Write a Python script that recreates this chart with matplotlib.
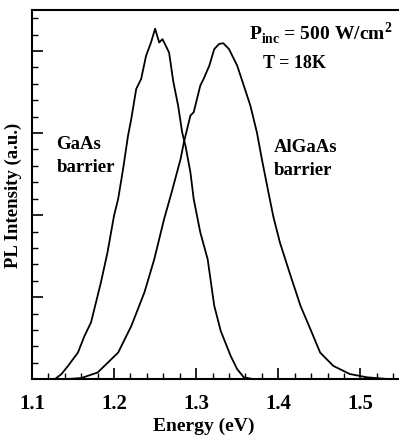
import numpy as np
import matplotlib
matplotlib.use('Agg')
import matplotlib.pyplot as plt
from matplotlib.ticker import MultipleLocator, NullFormatter, FormatStrFormatter

# GaAs barrier sample
e_gaas = [1.110, 1.128, 1.136, 1.144, 1.156, 1.164, 1.172, 1.178, 1.184, 1.192, 1.200,
          1.205, 1.211, 1.217, 1.221, 1.227, 1.233, 1.239, 1.245, 1.250, 1.255, 1.259,
          1.267, 1.272, 1.278, 1.283, 1.287, 1.293, 1.297, 1.301, 1.305, 1.314, 1.318,
          1.322, 1.330, 1.342, 1.350, 1.358, 1.370, 1.380]
i_gaas = [0.000, 0.000, 0.014, 0.036, 0.072, 0.117, 0.154, 0.208, 0.262, 0.343, 0.443,
          0.488, 0.569, 0.659, 0.705, 0.786, 0.813, 0.876, 0.912, 0.949, 0.912, 0.921,
          0.885, 0.808, 0.741, 0.668, 0.632, 0.560, 0.488, 0.443, 0.398, 0.325, 0.262,
          0.199, 0.130, 0.063, 0.027, 0.005, 0.000, 0.000]

# AlGaAs barrier sample
e_algaas = [1.140, 1.160, 1.180, 1.205, 1.221, 1.237, 1.249, 1.261, 1.270, 1.281, 1.285,
            1.293, 1.297, 1.301, 1.305, 1.309, 1.316, 1.322, 1.328, 1.333, 1.340, 1.350,
            1.358, 1.366, 1.374, 1.380, 1.388, 1.394, 1.402, 1.415, 1.427, 1.439, 1.451,
            1.467, 1.487, 1.508, 1.536, 1.550]
i_algaas = [0.000, 0.003, 0.018, 0.072, 0.144, 0.235, 0.325, 0.434, 0.505, 0.596, 0.641,
            0.714, 0.723, 0.759, 0.795, 0.813, 0.849, 0.894, 0.908, 0.910, 0.894, 0.849,
            0.795, 0.741, 0.668, 0.596, 0.506, 0.440, 0.370, 0.280, 0.199, 0.136, 0.072,
            0.036, 0.014, 0.005, 0.000, 0.000]

plt.rcParams['font.family'] = ['Liberation Serif', 'DejaVu Serif']
plt.rcParams['font.weight'] = 'bold'
plt.rcParams['mathtext.fontset'] = 'custom'
plt.rcParams['mathtext.rm'] = 'Liberation Serif:bold'
plt.rcParams['mathtext.bf'] = 'Liberation Serif:bold'

fig = plt.figure(figsize=(3.99, 4.39), dpi=100)
ax = fig.add_axes([0.080, 0.134, 0.92, 0.841])

ax.plot(e_gaas, i_gaas, 'k-', lw=1.3)
ax.plot(e_algaas, i_algaas, 'k-', lw=1.3)

ax.set_xlim(1.1, 1.547)
ax.set_ylim(0, 1.0)
ax.spines['right'].set_visible(False)
for s in ['left', 'top', 'bottom']:
    ax.spines[s].set_linewidth(1.5)

ax.xaxis.set_major_locator(MultipleLocator(0.1))
ax.xaxis.set_minor_locator(MultipleLocator(0.02))
ax.yaxis.set_major_locator(MultipleLocator(0.2222))
ax.yaxis.set_minor_locator(MultipleLocator(0.04444))
ax.yaxis.set_major_formatter(NullFormatter())
ax.xaxis.set_major_formatter(FormatStrFormatter('%.1f'))
ax.tick_params(which='major', direction='in', length=8, width=1.2)
ax.tick_params(which='minor', direction='in', length=4, width=1.0)
ax.tick_params(axis='x', labelsize=15, pad=10)
ax.tick_params(top=False, right=False, which='both')

ax.set_xlabel('Energy (eV)', fontsize=14, fontweight='bold')
ax.xaxis.set_label_coords(0.469, -0.102)
ax.set_ylabel('PL Intensity (a.u.)', fontsize=13.5, fontweight='bold', labelpad=4)

ax.text(1.1297, 0.607, 'GaAs\nbarrier', fontsize=13.5, fontweight='bold',
        va='center', ha='left', linespacing=1.45)
ax.text(1.394, 0.600, 'AlGaAs\nbarrier', fontsize=13.5, fontweight='bold',
        va='center', ha='left', linespacing=1.45)
ax.text(1.364, 0.940, r'P$_{\mathrm{inc}}$ = 500 W/cm$^{\mathrm{2}}$', fontsize=14,
        fontweight='bold', va='center', ha='left')
ax.text(1.420, 0.859, 'T = 18K', fontsize=13, fontweight='bold', va='center', ha='center')

plt.savefig('out.png', dpi=100)
